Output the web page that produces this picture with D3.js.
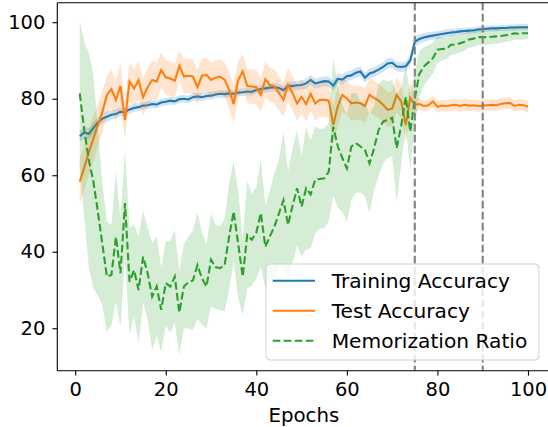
<!DOCTYPE html>
<html><head><meta charset="utf-8">
<script src="https://cdn.jsdelivr.net/npm/d3@7"></script>
<style>body{margin:0;background:#fff}svg{display:block}text{font-family:"DejaVu Sans",sans-serif}</style>
</head><body><svg id="c" width="548" height="427"></svg>
<script>
const epochs = d3.range(1, 101);
const trainMean = [70.2,71.2,70.8,72.3,73.8,74.8,75.3,75.8,76.0,76.6,76.5,77.2,77.6,77.8,78.2,78.3,78.6,78.5,79.0,79.2,79.5,79.3,79.9,80.0,79.8,80.4,80.6,80.4,80.7,80.8,81.1,81.3,81.2,81.4,81.3,81.6,81.7,81.9,81.8,82.3,82.5,82.7,82.9,83.0,82.8,82.2,83.4,83.3,83.5,83.6,84.0,84.9,84.0,84.3,84.6,84.5,83.4,85.2,85.0,85.9,86.1,86.8,87.1,85.5,86.6,87.0,87.6,88.3,89.2,89.4,88.4,88.3,88.5,90.0,94.9,95.6,96.0,96.3,96.5,96.7,96.9,97.1,97.3,97.4,97.6,97.7,97.8,97.9,98.1,98.2,98.3,98.4,98.4,98.5,98.5,98.6,98.6,98.7,98.7,98.7];
const trainStd = [1.5,1.5,1.5,1.4,1.4,1.3,1.3,1.3,1.2,1.2,1.1,1.1,1.1,1.0,1.0,1.0,1.0,1.0,1.0,1.0,1.0,1.0,1.0,1.0,1.0,1.0,1.0,1.0,1.0,1.0,1.0,1.0,1.0,1.0,1.0,1.0,1.0,1.0,1.0,1.0,1.1,1.1,1.1,1.1,1.1,1.1,1.1,1.2,1.2,1.2,1.3,1.3,1.3,1.3,1.3,1.3,1.3,1.3,1.3,1.3,1.3,1.3,1.3,1.3,1.3,1.3,1.3,1.3,1.3,1.3,1.3,1.3,1.3,1.3,1.3,1.2,1.2,1.1,1.1,1.0,1.0,1.0,0.9,0.9,0.9,0.8,0.8,0.8,0.8,0.8,0.8,0.8,0.8,0.8,0.8,0.8,0.8,0.8,0.8,0.8];
const testMean = [58.3,62.0,66.0,69.5,73.0,76.5,81.0,82.5,79.7,83.3,74.5,84.5,82.7,84.9,80.4,83.0,84.9,84.5,87.5,85.6,85.3,84.7,88.6,85.8,86.0,85.8,83.0,86.0,86.2,84.9,85.5,85.8,85.0,82.3,78.6,84.9,87.1,83.3,83.2,83.0,81.0,85.1,83.6,83.3,81.5,79.7,83.6,81.5,78.8,80.5,78.6,81.3,78.8,79.7,79.7,79.5,73.2,78.0,81.0,80.1,78.8,79.0,78.8,78.1,81.0,80.2,79.5,78.4,77.1,77.4,81.0,79.3,73.2,80.2,78.4,78.6,78.1,78.3,79.3,77.9,78.2,78.1,78.3,78.4,78.1,78.4,78.2,78.3,78.1,78.2,78.3,78.4,78.3,78.6,78.8,78.9,78.1,78.4,78.3,77.9];
const testStd = [6,6,6,6,5.5,5.5,5,5,5,6,5,5,5,5,5,5,5,5,4.5,4.5,4.5,4.5,4,4.5,4.5,4.5,4.5,4.5,4.5,4.5,4.5,4.5,4.5,5,5,5,4.5,4.5,4.5,4.5,4.5,4.5,4.5,4.5,4.5,4.5,4.5,4.5,4.5,4.5,4.5,4.5,4.5,4.5,4.5,4.5,5,5,4.5,4.5,4.5,4.5,4.5,4.5,4.5,4.5,4.5,4.5,4.5,4.5,4.5,4.5,4.5,4.5,2,1.6,1.5,1.5,1.5,1.5,1.5,1.5,1.5,1.5,1.5,1.5,1.5,1.5,1.5,1.5,1.5,1.5,1.5,1.5,1.5,1.5,1.5,1.5,1.5,1.5];
const memMean = [81.4,71.8,64.0,58.5,50.5,42.0,33.5,33.9,43.9,34.4,52.7,32.2,35.2,30.0,38.7,34.4,28.3,30.9,24.8,31.8,30.9,33.5,24.1,30.9,32.0,32.5,36.5,33.0,30.9,37.9,36.0,35.7,36.5,44.0,50.5,42.0,33.5,44.4,43.1,45.0,50.1,41.3,44.0,46.6,50.0,53.5,47.0,52.0,56.6,51.8,56.6,55.0,58.8,59.0,59.2,60.9,72.7,67.5,64.5,61.8,67.5,68.4,67.5,66.6,63.1,67.0,71.8,74.0,74.5,75.0,67.1,73.0,80.5,71.4,80.0,86.5,88.4,89.5,90.6,92.8,93.0,93.1,94.1,94.1,94.5,94.9,95.5,95.7,96.1,96.1,96.1,96.2,96.3,96.4,96.6,96.7,97.1,97.0,97.1,97.1];
const memStd = [19,23,28,28,22,16,14.5,13,17,14,14,14,12,14,12,12,14,13,11,11,12,12,11,11,12,13,14,12,11,12,11,11,12,14,13,14,10,14,12,12,14,11,12,14,14,18,14,15,15,13,16,14,14,13,13,13,18,16,14,14,14,13,12,12,13,11,12,11,10,10,14,10,8,10,7,6,5,4.5,4,3.5,3,2.8,2.6,2.5,2.4,2.3,2.2,2.1,2,2,2,1.9,1.9,1.8,1.8,1.7,1.7,1.6,1.6,1.5];
const yTicks = [20,40,60,80,100];
const xTicks = [0,20,40,60,80,100];
const vLines = [75,90];
const seriesNames = ["Training Accuracy","Test Accuracy","Memorization Ratio"];
const colors = ["#1f77b4","#ff7f0e","#2ca02c"];

const svg = d3.select("#c");
const L = 57.3, R = 550.4, T = 2.7, B = 370.7;
const x = d3.scaleLinear().domain([-3.95, 104.95]).range([L, R]);
const y = d3.scaleLinear().domain([8.9, 105.1]).range([B, T]);

svg.append("clipPath").attr("id","clip").append("rect").attr("x",L).attr("y",T).attr("width",R-L).attr("height",B-T);
const g = svg.append("g").attr("clip-path","url(#clip)");

const series = [
  {mean: trainMean, sd: trainStd, dash: null},
  {mean: testMean, sd: testStd, dash: null},
  {mean: memMean, sd: memStd, dash: "7.7,3.3"}
];
series.forEach((s, i) => {
  const rows = epochs.map((e, k) => ({e, m: s.mean[k], sd: s.sd[k]}));
  g.append("path").datum(rows)
    .attr("d", d3.area().x(d => x(d.e)).y0(d => y(d.m - d.sd)).y1(d => y(d.m + d.sd)))
    .attr("fill", colors[i]).attr("fill-opacity", 0.2);
  g.append("path").datum(rows)
    .attr("d", d3.line().x(d => x(d.e)).y(d => y(d.m)))
    .attr("fill","none").attr("stroke", colors[i]).attr("stroke-width", 2.1)
    .attr("stroke-dasharray", s.dash);
});

vLines.forEach(v => {
  g.append("line").attr("x1", x(v)).attr("x2", x(v)).attr("y1", T).attr("y2", B)
    .attr("stroke", "#808080").attr("stroke-width", 2.1).attr("stroke-dasharray", "7.7,3.3");
});

// axes
const xa = svg.append("g").attr("transform", `translate(0,${B})`)
  .call(d3.axisBottom(x).tickValues(xTicks).tickSize(4.9).tickPadding(7).tickFormat(d3.format("d")));
const ya = svg.append("g").attr("transform", `translate(${L},0)`)
  .call(d3.axisLeft(y).tickValues(yTicks).tickSize(4.9).tickPadding(7).tickFormat(d3.format("d")));
[xa, ya].forEach(a => {
  a.select(".domain").remove();
  a.selectAll("line").attr("stroke","#000").attr("stroke-width",1.1);
  a.selectAll("text").attr("font-size","19.5px").attr("fill","#000").attr("font-family","DejaVu Sans");
});
svg.append("line").attr("x1",L).attr("x2",L).attr("y1",T).attr("y2",B).attr("stroke","#000").attr("stroke-width",1.1);
svg.append("line").attr("x1",L).attr("x2",R).attr("y1",B).attr("y2",B).attr("stroke","#000").attr("stroke-width",1.1);
svg.append("line").attr("x1",L).attr("x2",R).attr("y1",T).attr("y2",T).attr("stroke","#000").attr("stroke-width",1.1);

svg.append("text").attr("x", (L+R)/2).attr("y", 422).attr("text-anchor","middle")
  .attr("font-size","19.8px").text("Epochs");

// legend
const lg = svg.append("g");
lg.append("rect").attr("x",266).attr("y",264).attr("width",273).attr("height",96).attr("rx",4)
  .attr("fill","#fff").attr("fill-opacity",0.8).attr("stroke","#d0d0d0").attr("stroke-width",1);
seriesNames.forEach((n, i) => {
  const yy = 280.7 + i*30;
  lg.append("line").attr("x1",272.7).attr("x2",315).attr("y1",yy).attr("y2",yy)
    .attr("stroke",colors[i]).attr("stroke-width",2.1).attr("stroke-dasharray", series[i].dash);
  lg.append("text").attr("x",331.7).attr("y",yy+7).attr("font-size","20.2px").text(n);
});
</script></body></html>
